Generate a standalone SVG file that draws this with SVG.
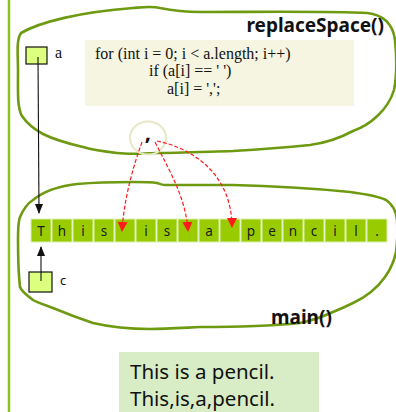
<svg xmlns="http://www.w3.org/2000/svg" width="396" height="412" viewBox="0 0 396 412">
<style>
.blob{fill:none;stroke:#6e9a12;stroke-width:2.6;stroke-linejoin:round}
.cell{fill:#99cc00;stroke:#dcefb4;stroke-width:1}
.ct{font-family:"Noto Sans","DejaVu Sans",sans-serif;font-size:13.5px;fill:#1a1a1a;text-anchor:middle}
.code{font-family:"Liberation Serif","Times New Roman",serif;font-size:16px;fill:#111}
.var{fill:#dcff80;stroke:#111;stroke-width:1.2}
.red{fill:none;stroke:#ff1a1a;stroke-width:1.2;stroke-dasharray:4 2}
.blk{fill:none;stroke:#111;stroke-width:1.1}
.title{font-family:"Noto Sans","DejaVu Sans",sans-serif;font-weight:bold;fill:#111;font-size:19px}
.out{font-family:"Noto Sans","DejaVu Sans",sans-serif;font-size:20.5px;fill:#111}
</style>
<defs>
<marker id="ra" markerWidth="10" markerHeight="10" refX="9" refY="5" orient="auto" markerUnits="userSpaceOnUse"><path d="M0,0 L10,5 L0,10 Z" fill="#ff1a1a"/></marker>
<marker id="ba" markerWidth="10" markerHeight="10" refX="9" refY="5" orient="auto" markerUnits="userSpaceOnUse"><path d="M0,1 L10,5 L0,9 Z" fill="#111"/></marker>
</defs>
<rect width="396" height="412" fill="#ffffff"/>
<line x1="9" y1="0" x2="9" y2="412" stroke="#8cc21a" stroke-width="2.5"/>
<g id="replaceSpace">
<path class="blob" d="M21,33 C40,22 80,12 133,8 C145,7 152,6 160,8 C170,10 180,12 200,12 C260,12 330,11 367,13 C385,15 393,25 395,40 C397,60 396,80 394,90 C388,110 370,125 353,131 C340,138 325,143 310,145 C280,148 250,150 233,151 C200,152 175,153 157,153 C140,154 125,154 117,153 C100,151 90,149 83,147 C70,144 55,140 43,134 C32,128 26,122 22,116 C17,108 18,90 18,70 C18,55 16,40 21,33 Z"/>
<text class="title" x="384" y="32" text-anchor="end">replaceSpace()</text>
<rect x="85" y="40" width="269" height="66" fill="#f5f5e1"/>
<text class="code" x="95" y="59">for (int i = 0; i &lt; a.length; i++)</text>
<text class="code" x="149" y="76">if (a[i] == ' ')</text>
<text class="code" x="167" y="94">a[i] = ',';</text>
<rect class="var" x="26" y="47" width="21" height="17"/>
<text class="code" x="55" y="58" font-size="15">a</text>
</g>
<g id="comma">
<ellipse cx="148" cy="138" rx="18" ry="16.5" fill="none" stroke="#e8e8c6" stroke-width="2"/>
<text x="148" y="140" font-family="Noto Sans, DejaVu Sans, sans-serif" font-size="22" font-weight="bold" text-anchor="middle" fill="#111">,</text>
</g>
<g id="main">
<path class="blob" d="M20,217 C24,208 28,203 33,200 C45,190 60,186 77,184 C100,182 120,182 133,182 C145,182 152,182 157,183 C160,184 162,185 165,185 C190,185 210,185 233,185 C280,186 320,189 350,192 C365,194 378,196 386,200 C392,204 396,210 397,220 C398,235 397,245 396,252 C394,262 390,270 385,277 C378,287 368,296 353,303 C343,308 338,310 333,312 C322,317 310,321 300,323 C270,326 230,327 200,327 C180,328 165,329 150,329 C130,329 110,327 93,323 C78,318 65,313 53,308 C42,304 36,302 33,300 C25,294 21,290 20,287 C18,270 18,255 18,240 C18,230 18,222 20,217 Z"/>
<text class="title" x="271" y="324">main()</text>
<rect class="var" x="29" y="272" width="23" height="20"/>
<text x="60" y="285" font-family="Noto Sans, DejaVu Sans, sans-serif" font-size="13" fill="#111">c</text>
</g>
<g id="array">
<rect class="cell" x="31" y="219" width="20" height="23"/>
<rect class="cell" x="52" y="219" width="20" height="23"/>
<rect class="cell" x="73" y="219" width="20" height="23"/>
<rect class="cell" x="94" y="219" width="20" height="23"/>
<rect class="cell" x="115" y="219" width="20" height="23"/>
<rect class="cell" x="136" y="219" width="20" height="23"/>
<rect class="cell" x="157" y="219" width="20" height="23"/>
<rect class="cell" x="178" y="219" width="20" height="23"/>
<rect class="cell" x="199" y="219" width="20" height="23"/>
<rect class="cell" x="220" y="219" width="20" height="23"/>
<rect class="cell" x="241" y="219" width="20" height="23"/>
<rect class="cell" x="262" y="219" width="20" height="23"/>
<rect class="cell" x="283" y="219" width="20" height="23"/>
<rect class="cell" x="304" y="219" width="20" height="23"/>
<rect class="cell" x="325" y="219" width="20" height="23"/>
<rect class="cell" x="346" y="219" width="20" height="23"/>
<rect class="cell" x="367" y="219" width="20" height="23"/>
<text class="ct" x="41" y="236">T</text>
<text class="ct" x="62" y="236">h</text>
<text class="ct" x="83" y="236">i</text>
<text class="ct" x="104" y="236">s</text>
<text class="ct" x="146" y="236">i</text>
<text class="ct" x="167" y="236">s</text>
<text class="ct" x="209" y="236">a</text>
<text class="ct" x="251" y="236">p</text>
<text class="ct" x="272" y="236">e</text>
<text class="ct" x="293" y="236">n</text>
<text class="ct" x="314" y="236">c</text>
<text class="ct" x="335" y="236">i</text>
<text class="ct" x="356" y="236">l</text>
<text class="ct" x="377" y="236">.</text>
</g>
<g id="connectors">
<path class="blk" d="M38,57 L39,213" marker-end="url(#ba)"/>
<path class="blk" d="M41,281 L41,247" marker-end="url(#ba)"/>
<path class="red" d="M142,142 C132,170 124,200 122,231" marker-end="url(#ra)"/>
<path class="red" d="M155,142 C172,175 186,200 188,231" marker-end="url(#ra)"/>
<path class="red" d="M157,141 C200,150 232,180 232,227" marker-end="url(#ra)"/>
</g>
<g id="output">
<rect x="119" y="352" width="200" height="60" fill="#d8edc6"/>
<text class="out" x="130" y="379">This is a pencil.</text>
<text class="out" x="130" y="406">This,is,a,pencil.</text>
</g>
</svg>
